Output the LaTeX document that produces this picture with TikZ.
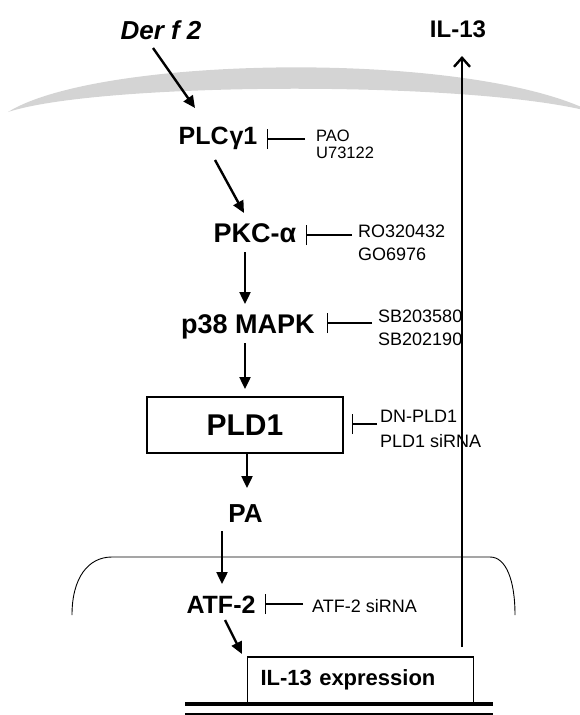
\documentclass[tikz,border=0pt]{standalone}
\usepackage{fontspec}
\setmainfont{Liberation Sans}
\usetikzlibrary{arrows.meta}
\definecolor{memb}{RGB}{212,212,212}
\begin{document}
\begin{tikzpicture}[x=1pt,y=-1pt,
  big/.style={font=\bfseries\fontsize{#1}{#1}\selectfont, inner sep=0pt, anchor=base},
  small/.style={font=\fontsize{#1}{#1}\selectfont, inner sep=0pt, anchor=base west},
  small/.default=18,
  arr/.style={line width=2.4pt, -{Triangle[length=12pt,width=11pt]}},
  inh/.style={line width=1.2pt, -{Bar[width=20pt,line width=1.4pt]}},
  outarr/.style={line width=2.4pt, -{Straight Barb[length=9pt,width=16pt,line width=2.4pt]}}
]
\useasboundingbox (0,0) rectangle (580,715);
\clip (0,0) rectangle (580,715);
% membrane
\fill[memb] (8,112) .. controls (100,55) and (470,50) .. (592,112)
            .. controls (470,80) and (100,82) .. (8,112) -- cycle;
% nucleus
\draw[line width=0.9pt] (72,615) .. controls (72,578) and (88,557) .. (112,557)
   -- (490,557) .. controls (506,557) and (515,580) .. (515,615);
% DNA lines
\draw[line width=4.5pt] (185,704) -- (493,704);
\draw[line width=2pt] (185,713.5) -- (493,713.5);

% main nodes
\node[big=26] (der) at (161,39) {\itshape Der f 2};
\node[big=24] (il13) at (458,37) {IL-13};
\node[big=25] (plc) at (218,144) {PLC\kern1pt γ1};
\node[big=27] (pkc) at (255,242) {PKC-α};
\node[big=27] (p38) at (248,333) {p38 MAPK};
\node[draw, line width=1.2pt, minimum width=196pt, minimum height=56pt, inner sep=0pt,
      font=\bfseries\fontsize{30}{30}\selectfont] (pld) at (245,425) {PLD1};
\node[big=26] (pa) at (245.5,522) {PA};
\node[big=25] (atf) at (221,613) {ATF-2};
\node[draw, line width=1.2pt, anchor=west, minimum height=46pt, text width=200pt,
      inner xsep=13pt, inner ysep=0pt, align=left,
      font=\bfseries\fontsize{22}{22}\selectfont] (expr) at (247,680) {IL-13 expression};

% inhibitor texts
\node[small=16.5] (pao) at (316,141) {PAO};
\node[small=16.5] (u73) at (316,158.5) {U73122};
\node[small] (ro) at (358,237) {RO320432};
\node[small] (go) at (358,260) {GO6976};
\node[small] (sb1) at (378,322) {SB203580};
\node[small] (sb2) at (378,345) {SB202190};
\node[small] (dn) at (380,422) {DN-PLD1};
\node[small] (plsi) at (380,447) {PLD1 siRNA};
\node[small] (atfsi) at (312,612) {ATF-2 siRNA};

% activation arrows
\coordinate (a0s) at (153,48);  \coordinate (a0e) at (195,108);
\coordinate (a1s) at (215,160); \coordinate (a1e) at (244,213);
\coordinate (a2s) at (245,252); \coordinate (a2e) at (245,304);
\coordinate (a3s) at (245,343); \coordinate (a3e) at (245,389);
\coordinate (a4s) at (247,455); \coordinate (a4e) at (247,488);
\coordinate (a5s) at (222,531); \coordinate (a5e) at (222,584);
\coordinate (a6s) at (225,620); \coordinate (a6e) at (242,654);
\draw[arr] (a0s) -- (a0e);
\draw[arr] (a1s) -- (a1e);
\draw[arr] (a2s) -- (a2e);
\draw[arr] (a3s) -- (a3e);
\draw[arr] (pld.south -| a4s) -- (a4e);
\draw[arr] (a5s) -- (a5e);
\draw[arr] (a6s) -- (a6e);
% secretion arrow
\coordinate (outs) at (462,647);
\coordinate (oute) at (462,56);
\draw[outarr] (outs) -- (oute);

% inhibition lines
\coordinate (i1s) at (305,139); \coordinate (i1e) at (267,139);
\coordinate (i2s) at (352,235); \coordinate (i2e) at (306,235);
\coordinate (i3s) at (372,323); \coordinate (i3e) at (327,323);
\coordinate (i4s) at (377,424); \coordinate (i4e) at (352,424);
\coordinate (i5s) at (303,604); \coordinate (i5e) at (265,604);
\draw[inh] (i1s) -- (i1e);
\draw[inh] (i2s) -- (i2e);
\draw[inh] (i3s) -- (i3e);
\draw[inh] (i4s) -- (i4e);
\draw[inh] (i5s) -- (i5e);
\end{tikzpicture}
\end{document}
